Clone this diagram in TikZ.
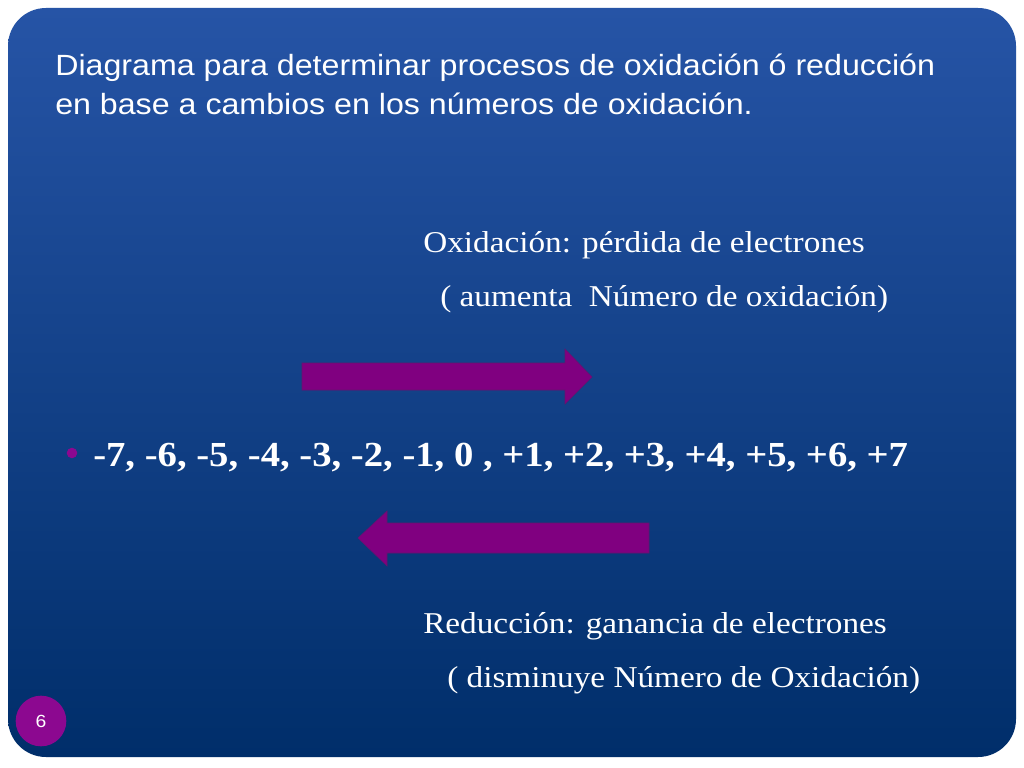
\documentclass[tikz,border=0pt]{standalone}
\usepackage{fontspec}
\setmainfont{Liberation Serif}[FakeStretch=1.1]
\setsansfont{Liberation Sans}[FakeStretch=1.1]
\usetikzlibrary{positioning}
\definecolor{fondoTop}{RGB}{38,84,166}
\definecolor{fondoMid}{RGB}{8,64,140}
\definecolor{fondoBot}{RGB}{0,46,106}
\definecolor{morado}{RGB}{128,0,128}
\definecolor{moradoBorde}{RGB}{100,20,110}
\definecolor{circulo}{RGB}{140,8,144}
\tikzset{
	titulo/.style={
		anchor=base west,
		inner sep=0pt,
		text=white,
		font=\sffamily\fontsize{20.8}{24}\selectfont},
	texto/.style={
		anchor=base west,
		inner sep=0pt,
		text=white,
		font=\fontsize{21.5}{25}\selectfont},
	numeros/.style={
		anchor=base west,
		inner sep=0pt,
		text=white,
		font=\bfseries\fontsize{25}{30}\selectfont},
	flecha/.style={
		fill=morado,
		draw=moradoBorde, thin},
	vineta/.style={
		circle, fill=circulo, inner sep=0pt, minimum size=7.5pt},
	pagina/.style={
		circle, fill=circulo, inner sep=0pt, minimum size=36pt,
		text=white, font=\sffamily\fontsize{12.5}{14}\selectfont},
}

\begin{document}
\begin{tikzpicture}
	[x=0.025cm, y=-0.025cm]
\useasboundingbox (0,0) rectangle (1024,768);
\fill[white] (0,0) rectangle (1024,768);
% fondo de la diapositiva
\shade[top color=fondoTop, middle color=fondoMid, bottom color=fondoBot,
	rounded corners=0.95cm] (8,8) rectangle (1016,757);

% titulo
\node[titulo] (tit1) at (55,76) {Diagrama para determinar procesos de oxidación ó reducción};
\node[titulo] (tit2) at (55,115) {en base a cambios en los números de oxidación.};

% oxidacion
\node[texto] (oxi1) at (423,252) {Oxidación: pérdida de electrones};
\node[texto] (oxi2) at (440,306) {( aumenta\ \ Número de oxidación)};
\draw[flecha] (302,363) -- (565,363) -- (565,349) -- (592,377)
	-- (565,404) -- (565,390) -- (302,390) -- cycle;

% escala de numeros
\node[vineta] (punto) at (72,453) {};
\node[numeros] (escala) at (93,466) {-7, -6, -5, -4, -3, -2, -1, 0 , +1, +2, +3, +4, +5, +6, +7};

% reduccion
\draw[flecha] (649,523) -- (387,523) -- (387,511) -- (358,538)
	-- (387,566) -- (387,553) -- (649,553) -- cycle;
\node[texto] (red1) at (423,633) {Reducción: ganancia de electrones};
\node[texto] (red2) at (447,687) {( disminuye Número de Oxidación)};

% numero de pagina
\node[pagina] (pag) at (41,721) {6};
	\end{tikzpicture}
\end{document}
